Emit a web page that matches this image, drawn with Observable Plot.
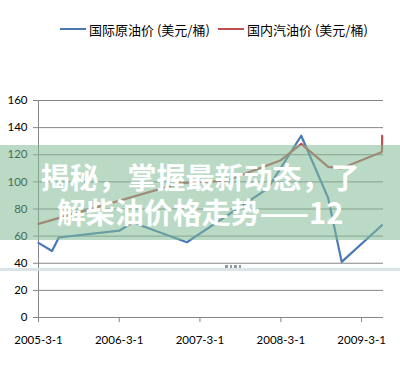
<!DOCTYPE html>
<html>
<head>
<meta charset="utf-8">
<script src="https://cdn.jsdelivr.net/npm/d3@7"></script>
<script src="https://cdn.jsdelivr.net/npm/@observablehq/plot@0.6"></script>
<style>
  html, body { margin: 0; padding: 0; background: #fff; }
  #wrap { position: relative; width: 400px; height: 387px; overflow: hidden; }
  #legend { position: relative; height: 60px; font-family: "Noto Sans CJK SC", sans-serif; font-size: 13px; color: #000; }
  .item { position: absolute; top: 20px; height: 18px; display: flex; align-items: center; white-space: nowrap; }
  .sw { width: 26px; height: 2.5px; margin-right: 3px; }
  #banner { position: absolute; left: 0; top: 145px; width: 400px; height: 95px; background: rgba(130,188,152,0.55); }
  .btext { position: absolute; left: 0; width: 400px; text-align: center; color: #fff; height: 30px;
           font-family: "Noto Sans CJK SC", sans-serif; font-weight: bold; font-size: 29px; line-height: 30px; white-space: nowrap; }
  #pale { position: absolute; left: 0; top: 268px; width: 400px; height: 3px; background: #dae3e7; }
  .dot { position: absolute; top: 265px; width: 2.5px; height: 2.5px; background: #8d9ba3; }
</style>
</head>
<body>
<div id="wrap">
  <div id="legend"></div>
  <div id="chart"></div>
  <div id="banner"></div>
  <div class="btext" style="top:161px">揭秘，掌握最新动态，了</div>
  <div class="btext" style="top:196px">解柴油价格走势——12</div>
  <div id="pale"></div>
</div>
<script>
// ---- data ----
const seriesNames = ["国际原油价 (美元/桶)", "国内汽油价 (美元/桶)"];
const seriesColors = ["#4a78b4", "#c0504d"];

const crudeDates = ["2005-03-01","2005-05-01","2005-06-01","2006-03-01","2006-05-01","2007-01-01","2008-01-01","2008-06-01","2008-10-01","2008-12-01","2009-06-01"];
const crudeValues = [55, 49, 59, 64, 70, 55.5, 95, 134, 88, 41, 68];

const gasDates = ["2005-03-01","2006-12-01","2007-07-01","2008-03-01","2008-06-01","2008-10-01","2008-12-01","2009-06-01","2009-06-02"];
const gasValues = [69, 99, 101, 116, 128, 111, 110, 122, 134];

const yTicks = [0, 20, 40, 60, 80, 100, 120, 140, 160];
const xTickDates = ["2005-03-01","2006-03-01","2007-03-01","2008-03-01","2009-03-01"];
const xTickLabels = ["2005-3-1","2006-3-1","2007-3-1","2008-3-1","2009-3-1"];
const xDomain = ["2005-03-01","2009-06-08"];

// ---- build ----
const toDate = s => new Date(s + "T00:00:00Z");
const rows = [
  ...crudeDates.map((d, i) => ({series: seriesNames[0], date: toDate(d), value: crudeValues[i]})),
  ...gasDates.map((d, i) => ({series: seriesNames[1], date: toDate(d), value: gasValues[i]}))
];
const tickDates = xTickDates.map(toDate);
const grid = "#868686";

// legend
const lg = document.getElementById("legend");
const lefts = [60, 218];
seriesNames.forEach((n, i) => {
  const it = document.createElement("div");
  it.className = "item";
  it.style.left = lefts[i] + "px";
  it.innerHTML = `<span class="sw" style="background:${seriesColors[i]}"></span><span>${n}</span>`;
  lg.appendChild(it);
});

const chart = Plot.plot({
  width: 400,
  height: 310,
  marginTop: 40,
  marginBottom: 53,
  marginLeft: 38,
  marginRight: 17,
  style: { fontFamily: "Lato, sans-serif", fontSize: "11.5px", color: "#000", background: "transparent" },
  x: { type: "utc", domain: xDomain.map(toDate) },
  y: { domain: [0, 160] },
  color: { domain: seriesNames, range: seriesColors },
  marks: [
    Plot.ruleY(yTicks, { stroke: grid, strokeWidth: 1 }),
    Plot.ruleX([toDate(xDomain[0])], { y1: 0, y2: 160, stroke: grid }),
    Plot.axisY({ ticks: yTicks, tickSize: 5, tickPadding: 6, stroke: grid, label: null }),
    Plot.axisX({
      ticks: tickDates, tickSize: 5, tickPadding: 13, stroke: grid, label: null,
      tickFormat: d => xTickLabels[tickDates.findIndex(t => +t === +d)]
    }),
    Plot.line(rows, { x: "date", y: "value", z: "series", stroke: "series", strokeWidth: 2.2 })
  ]
});
document.getElementById("chart").appendChild(chart);

// decorative dots on the pale bar
const wrap = document.getElementById("wrap");
[225, 229.5, 234, 238.5].forEach(x => {
  const d = document.createElement("div");
  d.className = "dot";
  d.style.left = x + "px";
  wrap.appendChild(d);
});
</script>
</body>
</html>
